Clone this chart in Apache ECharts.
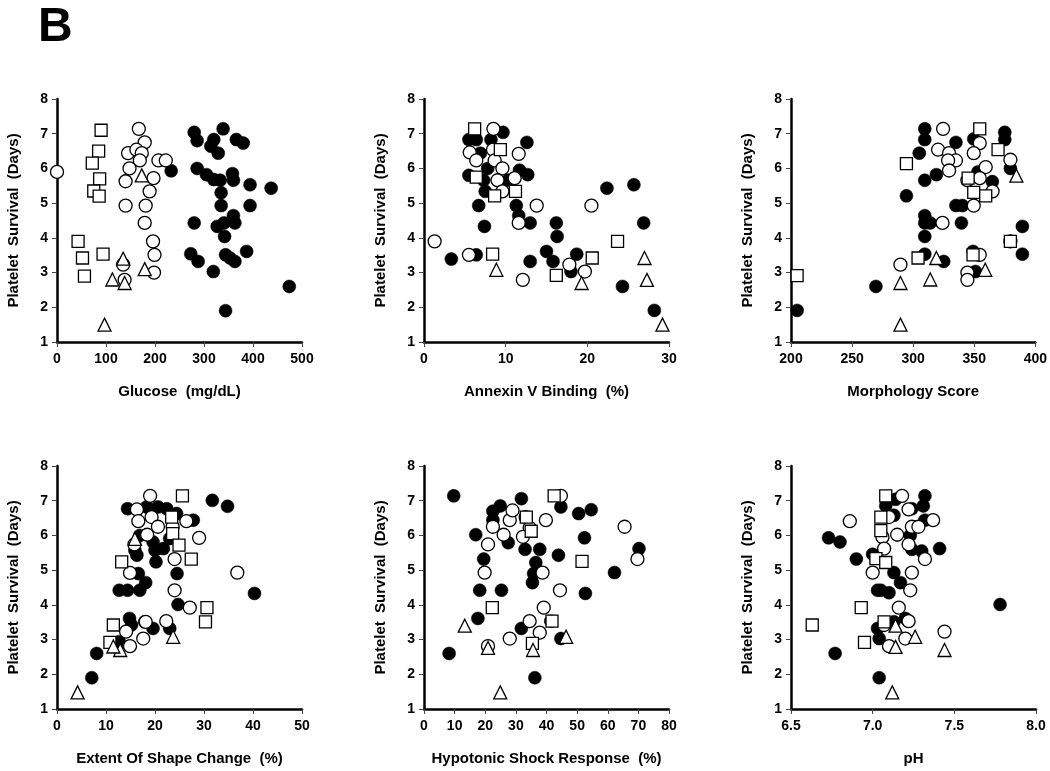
<!DOCTYPE html>
<html>
<head>
<meta charset="utf-8">
<script src="https://cdn.jsdelivr.net/npm/echarts@6/dist/echarts.min.js"></script>
<style>html,body{margin:0;padding:0;background:#fff}#c{width:1050px;height:771px}</style>
</head>
<body>
<div id="c"></div>
<script>
// ---------- DATA ----------
const yTicks = [1, 2, 3, 4, 5, 6, 7, 8];
const yTitle = 'Platelet  Survival  (Days)';
const panelTitles = ['Glucose  (mg/dL)', 'Annexin V Binding  (%)', 'Morphology Score',
                     'Extent Of Shape Change  (%)', 'Hypotonic Shock Response  (%)', 'pH'];
const xMins = [0, 0, 200, 0, 0, 6.5];
const xMaxs = [500, 30, 400, 50, 80, 8.0];
const xSteps = [100, 10, 50, 10, 10, 0.5];
const seriesNames = ['Filled circle', 'Open circle', 'Open square', 'Open triangle'];

const glucoseFilled = [[233,5.93],[280,7.04],[286,6.8],[339,7.14],[320,6.83],[314,6.64],[329,6.44],[366,6.83],[380,6.73],[286,6.0],[305,5.82],[320,5.68],[333,5.66],[358,5.85],[360,5.66],[394,5.53],[437,5.43],[335,5.3],[335,4.93],[394,4.93],[360,4.64],[327,4.33],[341,4.43],[363,4.43],[342,4.04],[280,4.43],[387,3.61],[344,3.51],[353,3.42],[363,3.32],[273,3.54],[288,3.32],[319,3.03],[474,2.6],[344,1.9]];
const glucoseOpen = [[0,5.9],[167,7.14],[179,6.75],[145,6.44],[162,6.54],[173,6.44],[169,6.23],[148,6.0],[207,6.23],[222,6.23],[140,5.63],[197,5.72],[189,5.34],[140,4.93],[181,4.93],[179,4.43],[196,3.9],[199,3.51],[135,3.23],[138,2.79],[198,3.0]];
const glucoseSquare = [[90,7.1],[85,6.5],[72,6.15],[87,5.7],[75,5.35],[86,5.2],[43,3.9],[52,3.42],[94,3.53],[56,2.9]];
const glucoseTriangle = [[97,1.5],[113,2.8],[135,3.4],[138,2.7],[173,5.8],[179,3.1]];

const annexinFilled = [[5.5,6.83],[6.4,6.83],[9.67,7.04],[8.2,6.83],[6.9,6.44],[7.8,6.0],[7.3,5.66],[7.5,5.34],[6.7,4.93],[7.4,4.33],[5.5,5.8],[10.3,5.66],[11.7,5.95],[12.7,5.82],[12.6,6.75],[11.3,4.93],[11.6,4.64],[13.0,4.43],[3.35,3.39],[6.4,3.51],[13.0,3.32],[15.0,3.61],[22.4,5.43],[25.7,5.53],[16.2,4.43],[16.3,4.04],[15.8,3.32],[18.7,3.53],[18.0,3.03],[26.9,4.43],[24.3,2.6],[28.2,1.91]];
const annexinOpen = [[8.5,7.14],[5.6,6.46],[6.4,6.23],[8.45,6.54],[8.65,6.23],[9.6,6.0],[9.0,5.66],[9.6,5.34],[11.1,5.72],[11.6,6.42],[11.6,4.43],[13.8,4.93],[1.3,3.9],[5.5,3.51],[12.1,2.79],[20.5,4.93],[17.8,3.23],[19.7,3.03]];
const annexinSquare = [[6.2,7.14],[9.35,6.54],[6.4,5.75],[8.65,5.21],[11.2,5.34],[8.4,3.53],[23.7,3.9],[20.6,3.42],[16.2,2.92]];
const annexinTriangle = [[8.86,3.08],[27.0,3.42],[27.3,2.79],[29.2,1.5],[19.3,2.7]];

const morphFilled = [[205,1.91],[269.5,2.6],[309.5,7.14],[309.5,6.83],[305,6.44],[335,6.75],[349.6,6.85],[375,7.04],[375,6.83],[379.6,6.0],[319,5.82],[309.5,5.66],[294.5,5.21],[353,5.9],[364.8,5.62],[335,4.93],[340.3,4.93],[309.5,4.64],[309.5,4.43],[314,4.43],[339.5,4.43],[309.5,4.04],[389.4,4.33],[389.4,3.53],[309.5,3.53],[325,3.32],[349,3.61],[351,3.03]];
const morphOpen = [[324.5,7.14],[320.4,6.54],[329.4,6.44],[335,6.23],[328.6,6.23],[329.4,5.94],[354.5,6.73],[349.6,6.44],[359.4,6.04],[354.5,5.72],[344.4,5.66],[365,5.34],[349.6,4.93],[324,4.43],[379.6,6.25],[379.6,3.9],[289.6,3.23],[354.5,3.51],[344.4,3.0],[344.4,2.79]];
const morphSquare = [[205,2.91],[294.5,6.14],[304,3.42],[354.5,7.14],[369.5,6.54],[345,5.72],[349.6,5.31],[359.4,5.21],[379.6,3.9],[349,3.51]];
const morphTriangle = [[289.6,1.5],[289.6,2.7],[314,2.8],[319,3.42],[359,3.08],[384.5,5.79]];

const shapeFilled = [[7.1,1.9],[8.1,2.6],[12.7,2.94],[14.8,3.61],[15.2,3.42],[17.9,3.51],[19.6,3.32],[23.0,3.32],[12.7,4.42],[14.4,4.42],[16.9,4.42],[18.1,4.64],[16.6,4.9],[20.2,5.24],[14.4,6.77],[18.3,6.82],[20.6,6.82],[22.4,6.77],[24.4,6.63],[27.8,6.44],[19.6,5.81],[20,5.57],[21.7,5.62],[15.9,5.57],[16.3,5.43],[23,5.91],[24.5,4.9],[24.7,4.01],[31.7,7.01],[16.9,6.0],[34.8,6.84],[40.3,4.33]];
const shapeOpen = [[19,7.14],[16.3,6.75],[16.6,6.41],[19.3,6.53],[20.6,6.25],[23.6,6.25],[26.4,6.41],[29,5.93],[18.4,6.02],[15.8,5.74],[24,5.32],[14.9,4.92],[24,4.42],[27.1,3.92],[22.3,3.53],[14.1,3.23],[17.6,3.03],[14.9,2.81],[18.1,3.51],[36.8,4.93]];
const shapeSquare = [[25.6,7.14],[23.4,6.53],[23.6,6.05],[24.9,5.72],[27.4,5.32],[13.2,5.24],[11.5,3.42],[10.8,2.92],[30.6,3.92],[30.3,3.51]];
const shapeTriangle = [[4.2,1.48],[12.9,2.7],[11.5,2.8],[23.7,3.08],[15.9,5.9]];

const hypoFilled = [[9.7,7.14],[16.9,6.02],[19.5,5.32],[18.2,4.42],[25.3,4.42],[17.6,3.61],[8.2,2.6],[22.5,6.7],[24.9,6.85],[31.8,7.06],[22.5,6.44],[27.5,5.79],[33,5.6],[37.8,5.6],[36.5,5.22],[35.8,4.9],[35.4,4.64],[31.8,3.32],[36.2,1.9],[44.7,6.82],[50.5,6.63],[54.6,6.74],[52.4,5.93],[43.9,5.43],[70.2,5.62],[62.2,4.93],[52.7,4.33],[41.4,3.53],[44.7,3.03]];
const hypoOpen = [[22.5,6.25],[20.9,5.74],[19.8,4.93],[28,6.44],[28.9,6.72],[26,6.02],[33.2,6.53],[34.5,6.22],[32.3,5.96],[38.7,4.93],[39.1,3.92],[39.8,6.44],[34.5,3.53],[37.8,3.2],[28,3.03],[20.9,2.81],[44.7,7.14],[65.5,6.25],[69.7,5.32],[44.4,4.42]];
const hypoSquare = [[22.3,3.92],[33.4,6.53],[35,6.12],[35.4,2.89],[42.5,7.14],[51.6,5.25],[41.8,3.53]];
const hypoTriangle = [[13.3,3.4],[20.9,2.76],[24.9,1.48],[35.6,2.7],[46.4,3.08]];

const phFilled = [[6.73,5.93],[6.8,5.81],[6.9,5.32],[6.77,2.6],[7.0,5.46],[7.03,4.42],[7.03,3.32],[7.04,3.03],[7.04,1.9],[7.32,7.14],[7.31,6.85],[7.08,6.85],[7.14,7.04],[7.24,6.77],[7.13,6.58],[7.32,6.44],[7.23,6.0],[7.24,5.6],[7.3,5.55],[7.41,5.62],[7.13,4.93],[7.17,4.64],[7.05,4.42],[7.1,4.35],[7.78,4.01],[7.2,3.61],[7.13,3.51]];
const phOpen = [[6.86,6.41],[7.0,4.93],[7.18,7.14],[7.22,6.75],[7.1,6.53],[7.37,6.44],[7.24,6.25],[7.28,6.25],[7.15,6.02],[7.06,5.95],[7.07,5.62],[7.22,5.74],[7.32,5.32],[7.24,4.93],[7.23,4.42],[7.16,3.92],[7.22,3.53],[7.07,3.42],[7.2,3.03],[7.1,2.81],[7.44,3.23]];
const phSquare = [[6.63,3.42],[6.93,3.92],[6.95,2.92],[7.02,5.33],[7.08,7.14],[7.05,6.53],[7.05,6.14],[7.08,5.22],[7.07,3.51]];
const phTriangle = [[7.12,1.48],[7.44,2.7],[7.26,3.08],[7.14,2.79],[7.14,3.4]];

const panelData = [
  [glucoseFilled, glucoseOpen, glucoseSquare, glucoseTriangle],
  [annexinFilled, annexinOpen, annexinSquare, annexinTriangle],
  [morphFilled, morphOpen, morphSquare, morphTriangle],
  [shapeFilled, shapeOpen, shapeSquare, shapeTriangle],
  [hypoFilled, hypoOpen, hypoSquare, hypoTriangle],
  [phFilled, phOpen, phSquare, phTriangle]
];

// ---------- CHART ----------
const FONT = '"Liberation Sans", Arial, Helvetica, sans-serif';
const lefts = [57, 424, 791];
const tops = [99, 466];
const W = 245, H = 243;

const grid = [], xAxis = [], yAxis = [], series = [];
const markerStyles = [
  {symbol: 'circle', symbolSize: 13, itemStyle: {color: '#000', borderColor: '#000', borderWidth: 0.5, opacity: 1}},
  {symbol: 'circle', symbolSize: 13, itemStyle: {color: '#fff', borderColor: '#000', borderWidth: 1.3, opacity: 1}},
  {symbol: 'rect', symbolSize: 12, itemStyle: {color: '#fff', borderColor: '#000', borderWidth: 1.3, opacity: 1}},
  {symbol: 'triangle', symbolSize: 13, itemStyle: {color: '#fff', borderColor: '#000', borderWidth: 1.3, opacity: 1}}
];

for (let p = 0; p < 6; p++) {
  const col = p % 3, row = Math.floor(p / 3);
  grid.push({left: lefts[col], top: tops[row], width: W, height: H, containLabel: false});
  xAxis.push({
    type: 'value', gridIndex: p, min: xMins[p], max: xMaxs[p], interval: xSteps[p],
    name: panelTitles[p], nameLocation: 'middle', nameGap: 42,
    nameTextStyle: {fontFamily: FONT, fontWeight: 'bold', fontSize: 15, color: '#000'},
    axisLine: {show: true, onZero: false, lineStyle: {color: '#000', width: 2.5}},
    axisTick: {show: true, inside: false, length: 5, lineStyle: {color: '#444', width: 1}},
    axisLabel: {fontFamily: FONT, fontWeight: 'bold', fontSize: 14, color: '#000', margin: 10,
      formatter: p === 5 ? (v => v.toFixed(1)) : (v => String(v))},
    splitLine: {show: false}
  });
  yAxis.push({
    type: 'value', gridIndex: p, min: yTicks[0], max: yTicks[yTicks.length - 1], interval: 1,
    name: yTitle, nameLocation: 'middle', nameGap: 36, nameRotate: 90,
    nameTextStyle: {fontFamily: FONT, fontWeight: 'bold', fontSize: 15, color: '#000'},
    axisLine: {show: true, onZero: false, lineStyle: {color: '#000', width: 2.5}},
    axisTick: {show: true, inside: false, length: 5, lineStyle: {color: '#444', width: 1}},
    axisLabel: {fontFamily: FONT, fontWeight: 'bold', fontSize: 14, color: '#000', margin: 9},
    splitLine: {show: false}
  });
  for (let s = 0; s < 4; s++) {
    series.push(Object.assign({
      type: 'scatter', name: seriesNames[s], xAxisIndex: p, yAxisIndex: p,
      data: panelData[p][s], z: 2 + s, animation: false, silent: true
    }, JSON.parse(JSON.stringify(markerStyles[s]))));
  }
}

const chart = echarts.init(document.getElementById('c'), null, {renderer: 'canvas'});
chart.setOption({
  backgroundColor: '#fff',
  animation: false,
  graphic: [{type: 'text', left: 38, top: 4,
    style: {text: 'B', fontFamily: FONT, fontWeight: 'bold', fontSize: 48, fill: '#000'}}],
  grid, xAxis, yAxis, series
});
</script>
</body>
</html>
